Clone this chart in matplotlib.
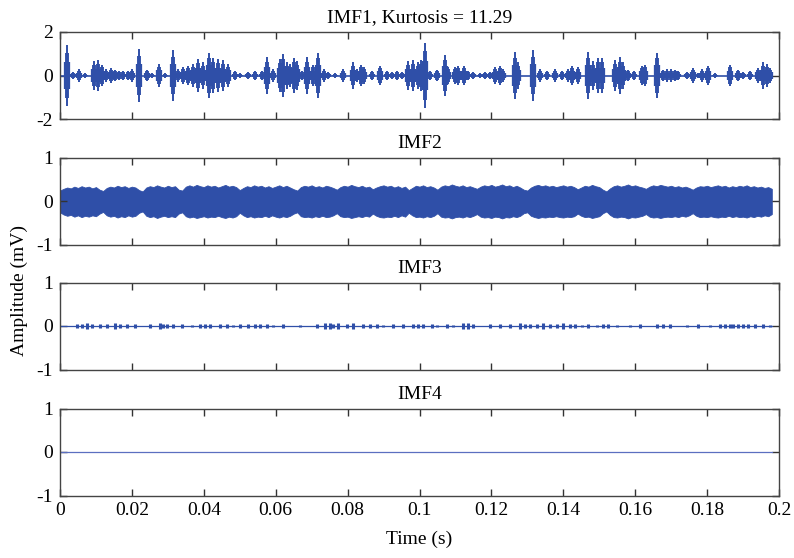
import numpy as np
import matplotlib
matplotlib.use("Agg")
import matplotlib.pyplot as plt
from matplotlib.ticker import FormatStrFormatter

plt.rcParams["font.family"] = ["Liberation Serif", "DejaVu Serif"]
plt.rcParams["axes.unicode_minus"] = False

BLUE = "#2f4fa8"
T_END = 0.198

# IMF1: impulse bursts (time in s, peak amplitude in mV)
imf1_t = [0.0020, 0.0037, 0.0054, 0.0070, 0.0095, 0.0105, 0.0116, 0.0127, 0.0142,
          0.0153, 0.0164, 0.0176, 0.0188, 0.0201, 0.0221, 0.0241, 0.0255, 0.0274,
          0.0292, 0.0315, 0.0329, 0.0343, 0.0357, 0.0371, 0.0385, 0.0399, 0.0415,
          0.0426, 0.0440, 0.0454, 0.0468, 0.0487, 0.0501, 0.0524, 0.0542, 0.0561,
          0.0577, 0.0593, 0.0612, 0.0619, 0.0631, 0.0640, 0.0652, 0.0658, 0.0672,
          0.0686, 0.0705, 0.0717, 0.0733, 0.0746, 0.0765, 0.0788, 0.0816, 0.0825,
          0.0837, 0.0847, 0.0867, 0.0890, 0.0909, 0.0923, 0.0937, 0.0950, 0.0969,
          0.0983, 0.0995, 0.1004, 0.1015, 0.1029, 0.1048, 0.1071, 0.1080, 0.1099,
          0.1108, 0.1125, 0.1136, 0.1150, 0.1168, 0.1182, 0.1196, 0.1210, 0.1224,
          0.1233, 0.1266, 0.1275, 0.1317, 0.1335, 0.1354, 0.1377, 0.1396, 0.1414,
          0.1425, 0.1442, 0.1470, 0.1484, 0.1496, 0.1509, 0.1544, 0.1558, 0.1567,
          0.1581, 0.1598, 0.1618, 0.1627, 0.1660, 0.1678, 0.1688, 0.1700, 0.1711,
          0.1720, 0.1743, 0.1762, 0.1776, 0.1785, 0.1803, 0.1822, 0.1864, 0.1887,
          0.1901, 0.1919, 0.1942, 0.1956, 0.1966, 0.1975]
imf1_amp = [1.40, 0.15, 0.30, 0.10, 0.67, 0.70, 0.50, 0.30, 0.35,
            0.25, 0.20, 0.20, 0.20, 0.30, 1.20, 0.25, 0.10, 0.55,
            0.10, 1.15, 0.30, 0.40, 0.45, 0.55, 0.75, 0.60, 1.05,
            0.80, 0.75, 0.70, 0.55, 0.20, 0.10, 0.15, 0.20, 0.20,
            0.85, 0.30, 0.75, 1.00, 0.60, 0.55, 0.80, 0.65, 0.20,
            0.85, 0.50, 1.05, 0.30, 0.15, 0.10, 0.30, 0.60, 0.30,
            0.50, 0.40, 0.20, 0.45, 0.20, 0.15, 0.20, 0.15, 0.65,
            0.70, 0.60, 0.70, 1.50, 0.20, 0.25, 0.95, 0.40, 0.40,
            0.45, 0.45, 0.20, 0.15, 0.10, 0.15, 0.15, 0.40, 0.45,
            0.30, 1.10, 0.60, 1.15, 0.30, 0.20, 0.30, 0.20, 0.30,
            0.45, 0.40, 1.10, 0.65, 0.80, 0.80, 0.70, 0.85, 0.60,
            0.25, 0.20, 0.45, 0.50, 1.05, 0.25, 0.30, 0.30, 0.25,
            0.20, 0.15, 0.35, 0.10, 0.30, 0.45, 0.10, 0.50, 0.25,
            0.15, 0.20, 0.35, 0.60, 0.55, 0.35]

# IMF2: band envelope sampled every 1 ms (upper and lower magnitude, mV)
imf2_t = np.arange(199) * 0.001
imf2_up = [0.24, 0.28, 0.31, 0.29, 0.33, 0.30, 0.34, 0.31, 0.33, 0.29,
           0.32, 0.26, 0.23, 0.30, 0.33, 0.31, 0.35, 0.32, 0.34, 0.30,
           0.33, 0.31, 0.25, 0.22, 0.31, 0.34, 0.32, 0.36, 0.33, 0.31,
           0.35, 0.32, 0.34, 0.26, 0.24, 0.33, 0.36, 0.33, 0.37, 0.34,
           0.32, 0.36, 0.33, 0.35, 0.31, 0.34, 0.37, 0.33, 0.35, 0.32,
           0.25, 0.30, 0.34, 0.32, 0.36, 0.33, 0.35, 0.31, 0.34, 0.30,
           0.33, 0.36, 0.32, 0.35, 0.31, 0.27, 0.24, 0.32, 0.35, 0.33,
           0.36, 0.32, 0.34, 0.31, 0.35, 0.33, 0.30, 0.26, 0.32, 0.35,
           0.33, 0.37, 0.34, 0.32, 0.35, 0.31, 0.33, 0.27, 0.31, 0.34,
           0.36, 0.33, 0.35, 0.31, 0.34, 0.30, 0.33, 0.25, 0.30, 0.35,
           0.33, 0.36, 0.32, 0.34, 0.31, 0.26, 0.33, 0.36, 0.34, 0.38,
           0.35, 0.33, 0.36, 0.32, 0.34, 0.31, 0.28, 0.33, 0.36, 0.34,
           0.37, 0.33, 0.35, 0.38, 0.34, 0.36, 0.32, 0.35, 0.31, 0.26,
           0.24, 0.31, 0.35, 0.37, 0.34, 0.36, 0.33, 0.35, 0.32, 0.34,
           0.36, 0.33, 0.35, 0.32, 0.27, 0.31, 0.35, 0.33, 0.37, 0.34,
           0.32, 0.26, 0.22, 0.29, 0.34, 0.36, 0.33, 0.35, 0.38, 0.34,
           0.36, 0.33, 0.31, 0.28, 0.33, 0.36, 0.34, 0.37, 0.35, 0.33,
           0.35, 0.32, 0.34, 0.31, 0.33, 0.30, 0.26, 0.31, 0.34, 0.33,
           0.35, 0.32, 0.34, 0.36, 0.33, 0.35, 0.31, 0.34, 0.32, 0.35,
           0.33, 0.36, 0.32, 0.34, 0.31, 0.33, 0.30, 0.32, 0.28]
imf2_lo = [0.26, 0.31, 0.34, 0.32, 0.36, 0.33, 0.37, 0.34, 0.36, 0.33,
           0.35, 0.29, 0.25, 0.33, 0.36, 0.34, 0.38, 0.35, 0.37, 0.33,
           0.36, 0.34, 0.27, 0.24, 0.34, 0.37, 0.35, 0.39, 0.36, 0.34,
           0.37, 0.35, 0.37, 0.29, 0.26, 0.35, 0.38, 0.36, 0.39, 0.37,
           0.35, 0.38, 0.36, 0.37, 0.34, 0.37, 0.39, 0.36, 0.38, 0.35,
           0.27, 0.33, 0.37, 0.35, 0.38, 0.36, 0.37, 0.34, 0.37, 0.33,
           0.36, 0.38, 0.35, 0.37, 0.34, 0.29, 0.26, 0.35, 0.37, 0.36,
           0.38, 0.35, 0.37, 0.34, 0.37, 0.36, 0.33, 0.28, 0.35, 0.37,
           0.36, 0.39, 0.37, 0.35, 0.37, 0.34, 0.36, 0.29, 0.34, 0.37,
           0.38, 0.36, 0.37, 0.34, 0.37, 0.33, 0.36, 0.27, 0.33, 0.37,
           0.36, 0.38, 0.35, 0.37, 0.34, 0.28, 0.36, 0.38, 0.37, 0.40,
           0.37, 0.36, 0.38, 0.35, 0.37, 0.34, 0.30, 0.36, 0.38, 0.37,
           0.39, 0.36, 0.37, 0.40, 0.37, 0.38, 0.35, 0.37, 0.34, 0.28,
           0.26, 0.34, 0.37, 0.39, 0.37, 0.38, 0.36, 0.37, 0.35, 0.37,
           0.38, 0.36, 0.37, 0.35, 0.29, 0.34, 0.37, 0.36, 0.39, 0.37,
           0.35, 0.28, 0.24, 0.32, 0.37, 0.38, 0.36, 0.37, 0.40, 0.37,
           0.38, 0.36, 0.34, 0.30, 0.36, 0.38, 0.37, 0.39, 0.37, 0.36,
           0.37, 0.35, 0.37, 0.34, 0.36, 0.33, 0.28, 0.34, 0.37, 0.36,
           0.37, 0.35, 0.37, 0.38, 0.36, 0.37, 0.34, 0.37, 0.35, 0.37,
           0.36, 0.38, 0.35, 0.37, 0.34, 0.36, 0.33, 0.35, 0.30]

# IMF3: tiny blips along the baseline
imf3_t = [0.0046, 0.0060, 0.0074, 0.0088, 0.0111, 0.0130, 0.0153, 0.0167, 0.0185,
          0.0209, 0.0250, 0.0278, 0.0287, 0.0297, 0.0315, 0.0338, 0.0366, 0.0389,
          0.0403, 0.0417, 0.0445, 0.0464, 0.0482, 0.0501, 0.0524, 0.0542, 0.0556,
          0.0575, 0.0593, 0.0621, 0.0668, 0.0714, 0.0737, 0.0751, 0.0760, 0.0774,
          0.0797, 0.0816, 0.0844, 0.0862, 0.0881, 0.0899, 0.0927, 0.0955, 0.0983,
          0.0997, 0.1011, 0.1034, 0.1048, 0.1076, 0.1094, 0.1122, 0.1136, 0.1150,
          0.1196, 0.1224, 0.1252, 0.1280, 0.1293, 0.1307, 0.1326, 0.1344, 0.1363,
          0.1382, 0.1400, 0.1419, 0.1433, 0.1451, 0.1470, 0.1493, 0.1511, 0.1525,
          0.1549, 0.1586, 0.1613, 0.1660, 0.1678, 0.1697, 0.1743, 0.1776, 0.1808,
          0.1836, 0.1850, 0.1864, 0.1873, 0.1887, 0.1901, 0.1915, 0.1933, 0.1956,
          0.1975]
imf3_amp = [0.04, 0.05, 0.06, 0.04, 0.05, 0.04, 0.06, 0.04, 0.05,
            0.04, 0.05, 0.07, 0.05, 0.04, 0.05, 0.04, 0.03, 0.04,
            0.05, 0.04, 0.05, 0.04, 0.03, 0.05, 0.04, 0.04, 0.05,
            0.04, 0.03, 0.04, 0.03, 0.04, 0.06, 0.07, 0.05, 0.06,
            0.05, 0.07, 0.04, 0.05, 0.04, 0.03, 0.04, 0.04, 0.05,
            0.04, 0.05, 0.04, 0.03, 0.04, 0.03, 0.06, 0.07, 0.05,
            0.04, 0.05, 0.04, 0.06, 0.04, 0.05, 0.04, 0.06, 0.05,
            0.04, 0.06, 0.05, 0.04, 0.03, 0.04, 0.03, 0.05, 0.04,
            0.03, 0.03, 0.04, 0.04, 0.05, 0.04, 0.03, 0.04, 0.03,
            0.05, 0.04, 0.05, 0.04, 0.05, 0.04, 0.04, 0.05, 0.04,
            0.03]

# IMF4: flat
imf4_t = [0.0, T_END]
imf4_v = [0.0, 0.0]

titles = ["IMF1, Kurtosis = 11.29", "IMF2", "IMF3", "IMF4"]
ylims = [(-2, 2), (-1, 1), (-1, 1), (-1, 1)]
yticks = [[-2, 0, 2], [-1, 0, 1], [-1, 0, 1], [-1, 0, 1]]
xticks = [0, 0.02, 0.04, 0.06, 0.08, 0.1, 0.12, 0.14, 0.16, 0.18, 0.2]

W, H = 794, 558
fig = plt.figure(figsize=(W / 100, H / 100), dpi=100)
tops = [32, 157.5, 282.5, 408.5]
axes = []
for top in tops:
    ax = fig.add_axes([60 / W, 1 - (top + 87) / H, 719 / W, 87 / H])
    axes.append(ax)

# IMF1
ax = axes[0]
ax.plot([0, T_END], [0, 0], color=BLUE, lw=1.2)
a1 = np.array(imf1_amp)
ax.vlines(imf1_t, -0.45 * a1, 0.45 * a1, color=BLUE, lw=4.5)
ax.vlines(imf1_t, -0.75 * a1, 0.75 * a1, color=BLUE, lw=2.8)
ax.vlines(imf1_t, -a1, a1, color=BLUE, lw=1.4)

# IMF2
ax = axes[1]
ax.fill_between(imf2_t, -np.array(imf2_lo), np.array(imf2_up),
                color=BLUE, lw=0.6, edgecolor=BLUE)

# IMF3
ax = axes[2]
ax.plot([0, T_END], [0, 0], color=BLUE, lw=0.9)
a3 = np.array(imf3_amp)
ax.vlines(imf3_t, -a3, a3, color=BLUE, lw=2.2)

# IMF4
axes[3].plot(imf4_t, imf4_v, color="#5b6fc0", lw=0.9)

for i, ax in enumerate(axes):
    ax.set_xlim(0, 0.2)
    ax.set_ylim(*ylims[i])
    ax.set_yticks(yticks[i])
    ax.set_xticks(xticks)
    ax.set_title(titles[i], fontsize=14, pad=7)
    ax.tick_params(direction="in", top=True, right=True, length=5,
                   width=1.0, labelsize=14, color="#333333", pad=5)
    for s in ax.spines.values():
        s.set_color("#444444")
        s.set_linewidth(1.0)
    if i < 3:
        ax.tick_params(labelbottom=False)
    else:
        ax.xaxis.set_major_formatter(FormatStrFormatter("%g"))
        ax.set_xlabel("Time (s)", fontsize=14, labelpad=8)

fig.text(0.024, 1 - 290 / H, "Amplitude (mV)", rotation=90, fontsize=14,
         ha="center", va="center")

fig.savefig("out.png", dpi=100)
